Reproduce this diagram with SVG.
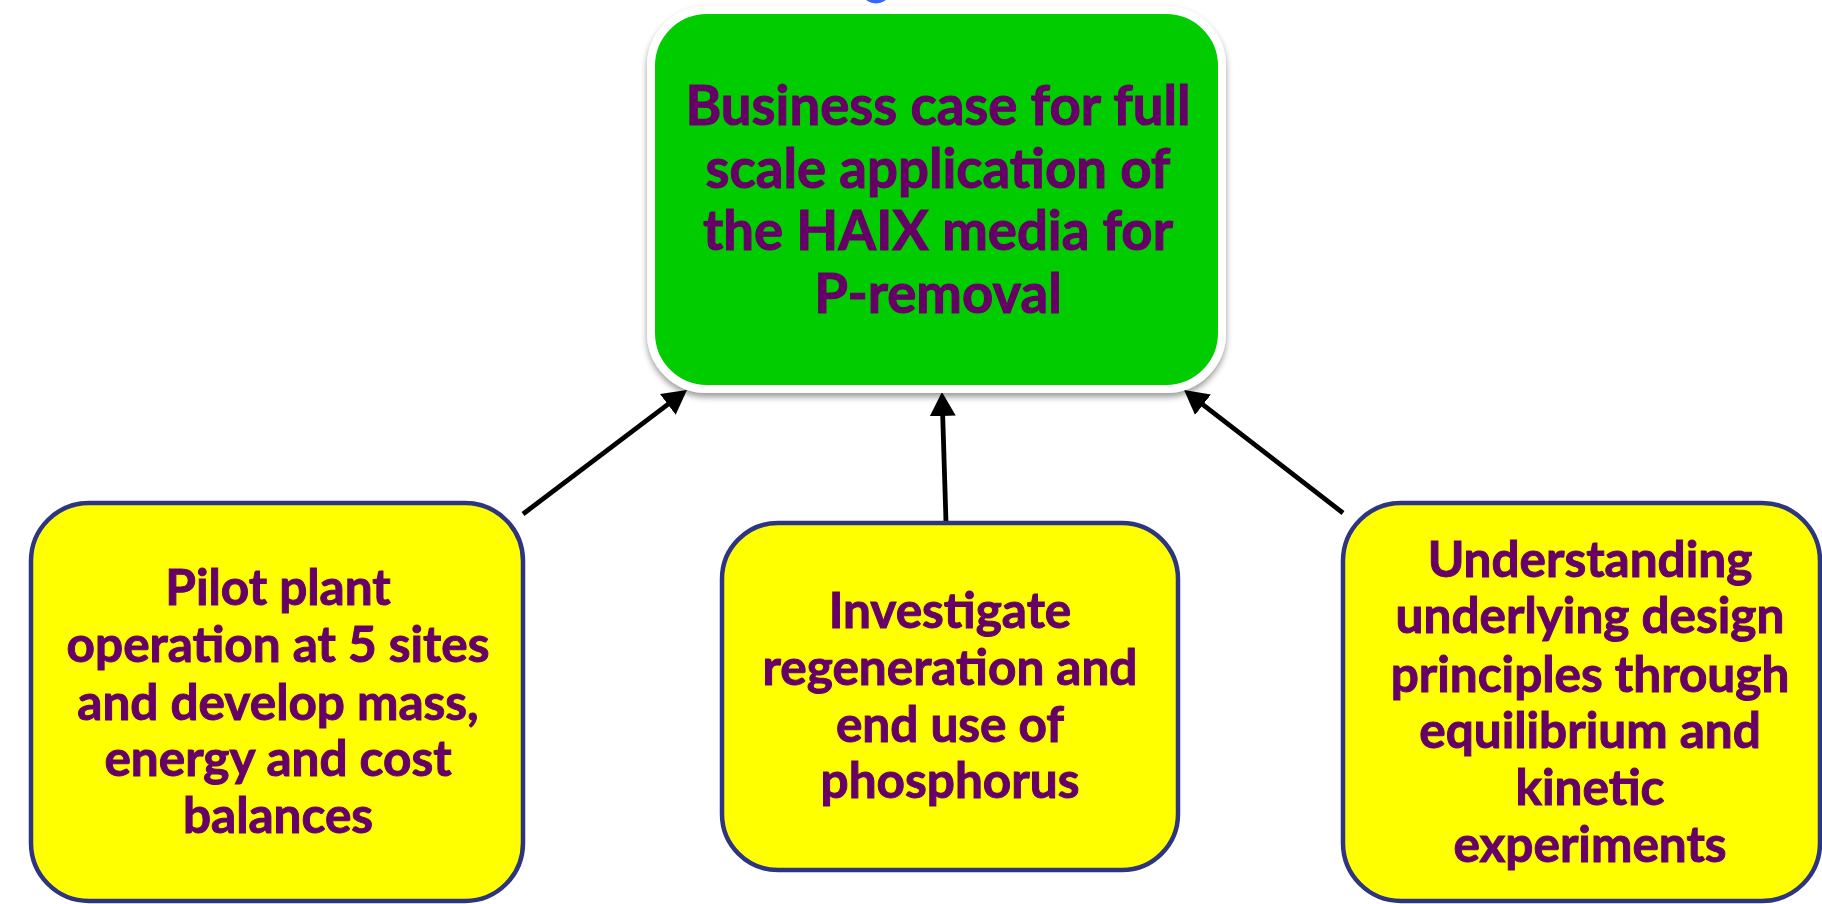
<svg xmlns="http://www.w3.org/2000/svg" width="1822" height="904" viewBox="0 0 1822 904">
<defs>
<style>
.t{font-family:"Lato","Liberation Sans",sans-serif;font-weight:bold;fill:#660066;stroke:#660066;stroke-width:1;text-anchor:middle}
.g{font-size:54.5px}
.y{font-size:49.5px}
.yb{fill:#FFFF00;stroke:#2E3580;stroke-width:4.5}
.ar{stroke:#000;stroke-width:4.8;fill:none;marker-end:url(#ah)}
</style>
<filter id="sh" x="-10%" y="-10%" width="120%" height="125%">
<feDropShadow dx="0" dy="4" stdDeviation="3" flood-color="#000" flood-opacity="0.4"/>
</filter>
<marker id="ah" markerUnits="userSpaceOnUse" markerWidth="26" markerHeight="26" viewBox="0 0 26 26" refX="10" refY="13" orient="auto">
<path d="M0,0 L24,13 L0,26 z" fill="#000"/>
</marker>
</defs>
<rect width="1822" height="904" fill="#fff"/>
<ellipse cx="876" cy="-5" rx="12" ry="8.5" fill="#3366FF"/>
<g id="connectors">
<line class="ar" x1="523" y1="514" x2="675.8" y2="398.4"/>
<line class="ar" x1="946" y1="522" x2="942.4" y2="406"/>
<line class="ar" x1="1343" y1="513" x2="1195.1" y2="398.6"/>
</g>
<g id="business-case">
<rect x="651" y="10" width="571" height="379" rx="56" ry="56" fill="#00CC00" stroke="#fff" stroke-width="8" filter="url(#sh)"/>
<text class="t g" x="938" y="125">Business case for full</text>
<text class="t g" x="938" y="188">scale application of</text>
<text class="t g" x="938" y="250">the HAIX media for</text>
<text class="t g" x="938" y="313">P-removal</text>
</g>
<g id="pilot-plant">
<rect class="yb" x="31" y="503" width="492" height="398" rx="58" ry="58"/>
<text class="t y" x="278" y="605">Pilot plant</text>
<text class="t y" x="278" y="662">operation at 5 sites</text>
<text class="t y" x="278" y="720">and develop mass,</text>
<text class="t y" x="278" y="776">energy and cost</text>
<text class="t y" x="278" y="833">balances</text>
</g>
<g id="regeneration">
<rect class="yb" x="722" y="523" width="456" height="347" rx="56" ry="56"/>
<text class="t y" x="950" y="628">Investigate</text>
<text class="t y" x="950" y="685">regeneration and</text>
<text class="t y" x="950" y="742">end use of</text>
<text class="t y" x="950" y="798">phosphorus</text>
</g>
<g id="design-principles">
<rect class="yb" x="1343" y="503" width="477" height="398" rx="58" ry="58"/>
<text class="t y" x="1590" y="577">Understanding</text>
<text class="t y" x="1590" y="633">underlying design</text>
<text class="t y" x="1590" y="692">principles through</text>
<text class="t y" x="1590" y="748">equilibrium and</text>
<text class="t y" x="1590" y="805">kinetic</text>
<text class="t y" x="1590" y="862">experiments</text>
</g>
</svg>
